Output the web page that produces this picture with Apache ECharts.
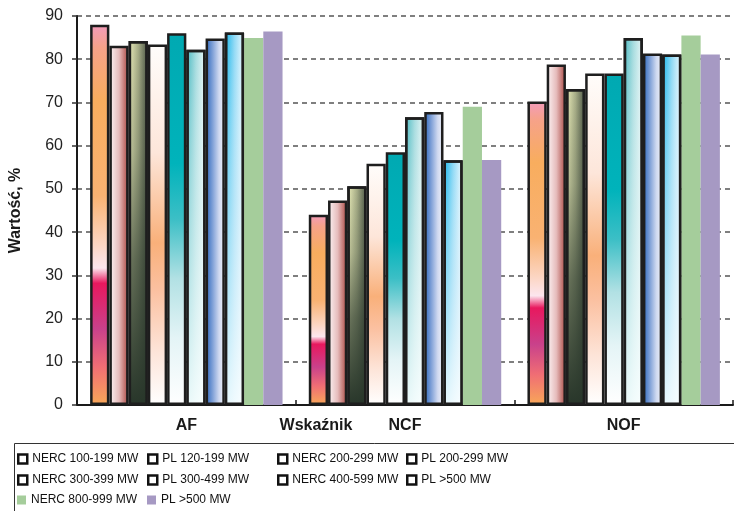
<!DOCTYPE html>
<html>
<head>
<meta charset="utf-8">
<script src="https://cdn.jsdelivr.net/npm/echarts@6/dist/echarts.min.js"></script>
<style>html,body{margin:0;padding:0;background:#fff}#c{width:734px;height:511px}</style>
</head>
<body>
<div id="c"></div>
<script>
var categories = ['AF', 'NCF', 'NOF'];
var seriesNames = ['NERC 100-199 MW', 'PL 120-199 MW', 'NERC 200-299 MW', 'PL 200-299 MW',
  'NERC 300-399 MW', 'PL 300-499 MW', 'NERC 400-599 MW', 'PL >500 MW', 'NERC 800-999 MW', 'PL >500 MW '];
var nerc100 = [88.0, 44.0, 70.2];
var pl120 = [83.1, 47.3, 78.8];
var nerc200 = [84.2, 50.6, 73.1];
var pl200 = [83.4, 55.8, 76.7];
var nerc300 = [86.0, 58.5, 76.7];
var pl300 = [82.2, 66.6, 84.9];
var nerc400 = [84.8, 67.8, 81.3];
var pl500a = [86.2, 56.6, 81.1];
var nerc800 = [84.9, 69.0, 85.5];
var pl500b = [86.4, 56.7, 81.1];
var yTicks = [0, 10, 20, 30, 40, 50, 60, 70, 80, 90];

var values = [nerc100, pl120, nerc200, pl200, nerc300, pl300, nerc400, pl500a, nerc800, pl500b];

function lg(x2, y2, stops) {
  return { type: 'linear', x: 0, y: 0, x2: x2, y2: y2,
    colorStops: stops.map(function (s) { return { offset: s[0], color: s[1] }; }) };
}
var fills = [
  lg(0, 1, [[0, '#f39bbb'], [0.06, '#f6a289'], [0.2, '#f8ad5e'], [0.45, '#f9b272'], [0.58, '#fcd6c4'], [0.64, '#fce6ee'], [0.68, '#e8185e'], [0.8, '#c9418b'], [0.9, '#f06e74'], [1, '#f8a858']]),
  lg(1, 0, [[0, '#fdf6f7'], [0.5, '#e6bcbc'], [1, '#a8443e']]),
  lg(1, 0, [[0, '#eef0bc'], [0.5, '#a8ae88'], [1, '#4a5444']]),
  lg(0, 1, [[0, '#fffdfb'], [0.3, '#fde6da'], [0.55, '#f9b07a'], [0.68, '#fbc0a0'], [0.85, '#fde4d8'], [1, '#ffffff']]),
  lg(0, 1, [[0, '#00a9b2'], [0.35, '#00b3bb'], [0.5, '#3cbfc6'], [0.66, '#b2e1e4'], [0.82, '#e4f4f6'], [1, '#ffffff']]),
  lg(1, 0, [[0, '#48b9c1'], [0.5, '#a6dcdf'], [1, '#eaf7f7']]),
  lg(1, 0, [[0, '#2a66bc'], [0.35, '#7c9ed6'], [0.7, '#cfd9f0'], [1, '#f0f2fa']]),
  lg(1, 0, [[0, '#14b4ea'], [0.5, '#8fd9f5'], [1, '#eef9ff']]),
  '#a5cd9b',
  '#a699c3'
];
var overlays = {
  2: lg(0, 1, [[0, 'rgba(44,58,46,0)'], [0.3, 'rgba(44,58,46,0.2)'], [0.6, 'rgba(44,58,46,0.65)'], [1, 'rgba(40,54,42,1)']]),
  5: lg(0, 1, [[0, 'rgba(255,255,255,0)'], [0.45, 'rgba(235,248,248,0.45)'], [1, 'rgba(250,255,255,0.9)']]),
  7: lg(0, 1, [[0, 'rgba(255,255,255,0)'], [0.45, 'rgba(232,245,252,0.45)'], [1, 'rgba(250,254,255,0.9)']])
};

var FONT = 'Liberation Sans, Arial, sans-serif';
var series = [];
for (var i = 0; i < 10; i++) {
  var bordered = i < 8;
  series.push({
    name: seriesNames[i], type: 'bar', xAxisIndex: 0, data: values[i],
    barGap: '0%', barCategoryGap: '12%',
    itemStyle: { color: fills[i], borderColor: bordered ? '#1e1e1e' : 'transparent', borderWidth: bordered ? 2.5 : 0 },
    emphasis: { disabled: true }, animation: false
  });
}
for (var j = 0; j < 10; j++) {
  var ov = overlays[j];
  series.push({
    name: 'ov' + j, type: 'bar', xAxisIndex: 1, data: ov ? values[j] : ['-', '-', '-'],
    barGap: '0%', barCategoryGap: '12%',
    itemStyle: { color: ov || 'transparent', borderColor: '#1e1e1e', borderWidth: ov ? 2.5 : 0 },
    emphasis: { disabled: true }, animation: false, silent: true
  });
}

var colX = [17, 147, 277, 406];
var rowY = [459, 480, 500];
var legends = [];
for (var k = 0; k < 10; k++) {
  var bordered2 = k < 8;
  legends.push({
    left: colX[k % 4], top: rowY[Math.floor(k / 4)] - 7, padding: 0,
    itemWidth: 9, itemHeight: 9, icon: 'rect', selectedMode: false,
    textStyle: { fontFamily: FONT, fontSize: 12, color: '#111', lineHeight: 14 },
    data: [{ name: seriesNames[k], icon: 'rect',
      itemStyle: bordered2 ? { color: '#ffffff', borderColor: '#111', borderWidth: 2.5 } : { color: fills[k], borderWidth: 0 } }]
  });
}

var chart = echarts.init(document.getElementById('c'));
chart.setOption({
  animation: false,
  backgroundColor: '#fff',
  grid: { left: 72, right: 1, top: 16, bottom: 106, containLabel: false },
  legend: legends,
  xAxis: [{
    type: 'category', data: categories,
    axisLine: { lineStyle: { color: '#1a1a1a', width: 2 } },
    axisTick: { show: true, inside: true, length: 5, lineStyle: { color: '#1a1a1a', width: 1.5 } },
    axisLabel: { fontFamily: FONT, fontSize: 16, fontWeight: 'bold', color: '#1a1a1a', margin: 13 }
  }, {
    type: 'category', data: categories, show: false
  }],
  yAxis: {
    type: 'value', min: yTicks[0], max: yTicks[yTicks.length - 1], interval: 10,
    name: 'Wartość, %', nameLocation: 'middle', nameGap: 53, nameRotate: 90,
    nameTextStyle: { fontFamily: FONT, fontSize: 16, fontWeight: 'bold', color: '#1a1a1a' },
    axisLine: { show: true, lineStyle: { color: '#1a1a1a', width: 2 } },
    axisTick: { show: true, length: 5, lineStyle: { color: '#333', width: 1.5 } },
    axisLabel: { fontFamily: FONT, fontSize: 16, color: '#222', margin: 14 },
    splitLine: { show: true, lineStyle: { color: '#555', width: 1.5, type: [5, 4] } }
  },
  graphic: [
    { type: 'rect', left: 12, top: 441, shape: { x: 0, y: 0, width: 740, height: 80 },
      style: { fill: 'none', stroke: '#333', lineWidth: 1 }, silent: true },
    { type: 'text', x: 316, y: 426, style: { text: 'Wskaźnik', fontFamily: FONT, fontSize: 16, fontWeight: 'bold',
      fill: '#1a1a1a', textAlign: 'center', textVerticalAlign: 'middle' }, silent: true }
  ],
  series: series
});
</script>
</body>
</html>
